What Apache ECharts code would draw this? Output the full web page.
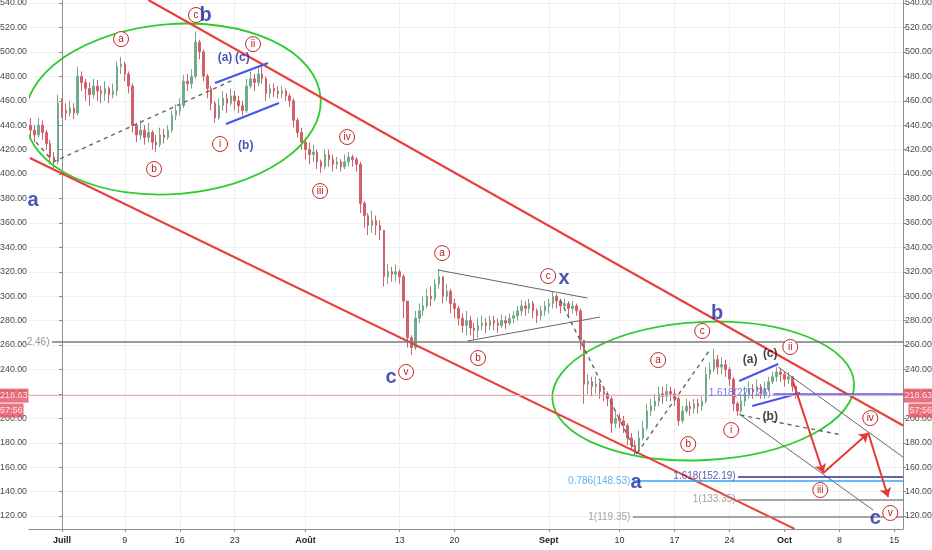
<!DOCTYPE html>
<html><head><meta charset="utf-8">
<script src="https://cdn.jsdelivr.net/npm/echarts@6/dist/echarts.min.js"></script>
<style>html,body{margin:0;padding:0;background:#fff}#c{width:932px;height:550px}</style>
</head><body><div id="c"></div>
<script>
// ---- price data: 12h candles, day 0 = 1 July ----
const START_DAY = -4;
const STEP = 0.5;
const FIRST_OPEN = 440;
const closes = [
436,432,440,434,425,414,410,458,452,450,
454,450,480,475,470,465,472,468,466,470,
465,468,488,490,482,472,440,432,436,430,
434,426,424,432,430,436,448,452,456,476,
474,480,508,500,480,470,458,446,456,462,
458,464,460,456,452,472,478,475,482,478,
466,470,468,466,468,464,460,444,434,426,
420,416,418,410,406,416,412,408,410,406,
410,414,412,408,376,366,358,362,358,354,
316,320,318,320,316,296,266,258,282,288,
292,300,298,310,316,300,304,294,290,282,
276,280,274,272,276,278,276,280,278,276,
280,278,282,284,288,292,290,294,288,284,
288,292,294,300,296,292,294,290,292,288,
264,228,230,226,228,222,220,216,196,200,
198,194,184,178,174,184,192,206,210,214,
220,218,222,220,216,198,206,210,208,212,
210,214,236,240,248,242,244,240,232,212,
206,214,220,224,222,226,220,224,230,234,
238,236,232,234,226,218.63];
const highs = [
446,440,446,444,436,428,418,465,462,458,
460,458,488,484,478,475,478,477,472,476,
472,474,492,496,492,484,474,442,444,440,
442,436,432,438,437,440,452,457,462,481,
482,486,517,510,502,482,472,460,462,468,
466,470,468,464,460,478,484,482,488,490,
480,474,474,472,472,470,466,462,446,438,
430,426,424,420,412,420,420,416,414,412,
416,418,416,414,410,378,368,370,366,362,
354,326,324,326,322,318,296,268,288,294,
300,306,308,314,322,316,310,306,298,292,
286,288,284,278,282,284,282,284,284,282,
285,284,286,288,292,297,296,298,296,290,
292,296,298,304,302,298,298,296,296,294,
290,264,236,234,234,230,226,222,218,206,
204,202,196,188,182,190,198,212,216,220,
226,226,228,226,224,218,210,216,214,216,
216,218,242,246,257,252,250,248,242,234,
214,220,226,230,228,232,228,230,234,238,
242,241,238,238,234,226];
const lows = [
430,426,430,428,420,408,405,408,446,444,
447,445,448,468,460,456,462,460,458,460,
458,462,464,482,476,466,434,426,428,424,
426,420,418,422,425,428,434,444,448,454,
468,470,478,494,476,462,452,442,444,452,
450,456,452,450,448,450,470,468,472,474,
460,462,463,462,462,460,455,438,430,420,
412,408,410,404,401,404,406,402,404,402,
404,406,406,402,368,356,350,352,350,346,
308,310,312,312,310,282,258,252,256,278,
284,290,292,296,306,294,296,286,282,276,
270,268,268,264,266,272,270,272,272,270,
274,273,276,278,280,284,284,286,282,278,
280,284,286,290,290,286,288,284,286,284,
256,212,220,218,220,216,214,210,188,192,
192,188,178,174,170,172,182,190,202,206,
210,212,214,214,210,194,196,204,202,204,
204,206,212,232,238,236,236,234,226,206,
202,204,210,216,216,218,216,216,222,228,
230,230,226,228,222,216];

// ---- axis ticks ----
const tickDays = [0,8,15,22,31,43,50,62,71,78,85,92,99,106];
const tickLabels = ['Juill','9','16','23','Août','13','20','Sept','10','17','24','Oct','8','15'];
const tickIsMonth = [1,0,0,0,1,0,0,1,0,0,0,1,0,0];
const priceTicks = [120,140,160,180,200,220,240,260,280,300,320,340,360,380,400,420,440,460,480,500,520,540];

// ---- annotations, in (day, price) ----
const redChannel = [[11.0,542.5,107.1,194.1],[-4.08,413.1,93.3,109.5]];
const dashedPaths = [[-3.31,426.2,-1.27,411.4],[-1.15,409.8,21.78,477.0],[63.44,296.8,73.25,170.0],[73.25,171.5,82.5,256.0],[86.4,202.7,99.4,186.3]];
const thinPaths = [[47.9,321.4,66.9,298.5],[51.6,263.3,68.5,282.9],[91.21,242.0,107.1,168.3],[86.24,203.5,103.3,124.9]];
const blueChannel = [[19.49,474.5,26.24,490.9],[20.89,440.9,27.64,458.1],[86.24,230.5,91.21,244.4],[87.9,210.1,94.01,220.7]];
const arrowPaths = [[93.12,229.7,96.94,155.2],[96.94,155.2,102.68,188.0],[102.68,188.0,105.2,135.6]];
const ellipses = [[14.14,453.2,18.85,69.6,4.5],[81.66,222.3,19.24,56.5,3]];
const levelValues = [262.46,152.19,148.53,133.35,119.35,220.26,218.63];
const levelStarts = [-1.27,86.1,72.7,86.1,72.7,90.6,-4.2];
const levelTexts = ['2.46)','1.618(152.19)','0.786(148.53)','1(133.35)','1(119.35)','1.618(220.26)',''];
const waveMarks = [[7.52,510.5,'a'],[11.72,404.1,'b'],[17.07,530.2,'c'],[20.13,424.6,'i'],[24.33,506.4,'ii'],
 [32.87,386.1,'iii'],[36.31,430.3,'iv'],[43.82,237.9,'v'],[48.41,335.3,'a'],[52.99,249.4,'b'],[61.91,316.5,'c'],
 [75.92,247.7,'a'],[79.75,178.9,'b'],[81.53,271.5,'c'],[85.22,190.4,'i'],[92.74,258.4,'ii'],[96.56,141.3,'iii'],
 [102.93,200.2,'iv'],[105.48,122.5,'v']];
const degreeMarks = [[18.3,530.2,'b'],[-3.69,378.7,'a'],[41.91,233.8,'c'],[63.95,314.9,'x'],[83.44,286.2,'b'],[73.12,147.8,'a'],[103.57,118.4,'c']];
const subMarksBlue = [[20.76,495.3,'(a)'],[22.97,495.3,'(c)'],[23.4,423.2,'(b)']];
const subMarksBlack = [[87.64,247.7,'(a)'],[90.19,253.2,'(c)'],[90.19,201.0,'(b)']];
const lastPrice = 218.63;
const timerText = '57:56';

// ---- styles / layout ----
const X_MIN = -4.2, X_MAX = 107.1, Y_MIN = 109.4, Y_MAX = 542.5;
const FONT = 'Liberation Sans, Arial, sans-serif';
const levelColors = ['#7a7a7a','#2b2f9c','#3aa0ee','#8a8a8a','#8a8a8a','#4f5cf0','#f4a6b0'];

const candles = closes.map((c, i) => [START_DAY + i * STEP, i === 0 ? FIRST_OPEN : closes[i - 1], c, lows[i], highs[i]]);
const segData = arr => arr.map(s => ({coords: [[s[0], s[1]], [s[2], s[3]]]}));
const markData = arr => arr.map(m => ({value: [m[0], m[1]], name: m[2]}));

const chart = echarts.init(document.getElementById('c'));

const yAxisBase = {
  type: 'value', min: Y_MIN, max: Y_MAX,
  axisLine: {show: true, lineStyle: {color: '#8c8c8c'}},
  axisTick: {show: true, length: 3, customValues: priceTicks, lineStyle: {color: '#8c8c8c'}},
  axisLabel: {customValues: priceTicks, formatter: v => v.toFixed(2), fontSize: 8.8, color: '#4a4a4a', margin: 2, fontFamily: FONT},
};

chart.setOption({
  animation: false,
  backgroundColor: '#fff',
  grid: {left: 29, right: 29, top: 0, bottom: 21, containLabel: false, outerBoundsMode: 'none'},
  xAxis: {
    type: 'value', min: X_MIN, max: X_MAX,
    axisLine: {show: true, onZero: false, lineStyle: {color: '#8c8c8c'}},
    axisTick: {show: true, length: 3, customValues: tickDays, lineStyle: {color: '#8c8c8c'}},
    axisLabel: {
      customValues: tickDays, fontSize: 9, color: '#333', margin: 7, fontFamily: FONT,
      formatter: v => { const i = tickDays.indexOf(v); if (i < 0) return ''; return tickIsMonth[i] ? '{m|' + tickLabels[i] + '}' : tickLabels[i]; },
      rich: {m: {fontWeight: 'bold', fontSize: 9, color: '#222', fontFamily: FONT}}
    },
    splitLine: {show: true, lineStyle: {color: '#eef0f3', width: 1}}
  },
  yAxis: [
    Object.assign({}, yAxisBase, {position: 'left', splitLine: {show: true, lineStyle: {color: '#eef0f3', width: 1}}}),
    Object.assign({}, yAxisBase, {position: 'right', splitLine: {show: false}})
  ],
  series: [
    {
      type: 'candlestick', data: candles, encode: {x: 0, y: [1, 2, 3, 4]}, barWidth: 2, z: 2, silent: true,
      itemStyle: {color: '#72ab8a', color0: '#d2606a', borderColor: '#72ab8a', borderColor0: '#d2606a', borderWidth: 1}
    },
    {
      type: 'custom', coordinateSystem: 'cartesian2d', clip: true, silent: true, z: 4,
      data: ellipses, encode: {x: 0, y: 1},
      renderItem: (params, api) => {
        const c = api.coord([api.value(0), api.value(1)]);
        const s = api.size([api.value(2), api.value(3)]);
        const rx = s[0], ry = s[1];
        const d = `M ${c[0]-rx} ${c[1]} A ${rx} ${ry} 0 1 0 ${c[0]+rx} ${c[1]} A ${rx} ${ry} 0 1 0 ${c[0]-rx} ${c[1]} Z`;
        return {type: 'path', shape: {pathData: d}, rotation: api.value(4) * Math.PI / 180, originX: c[0], originY: c[1],
          style: {fill: 'none', stroke: '#2fcc2f', lineWidth: 1.8}};
      }
    },
    {type: 'lines', coordinateSystem: 'cartesian2d', silent: true, z: 5, data: segData(redChannel), lineStyle: {color: '#e8403c', width: 2.2, opacity: 1}},
    {type: 'lines', coordinateSystem: 'cartesian2d', silent: true, z: 5, data: segData(dashedPaths), lineStyle: {color: '#666', width: 1.4, type: [4, 4], opacity: 1}},
    {type: 'lines', coordinateSystem: 'cartesian2d', silent: true, z: 5, data: segData(thinPaths), lineStyle: {color: '#666', width: 1, opacity: 1}},
    {type: 'lines', coordinateSystem: 'cartesian2d', silent: true, z: 5, data: segData(blueChannel), lineStyle: {color: '#4a55e6', width: 2.2, opacity: 1}},
    {
      type: 'lines', coordinateSystem: 'cartesian2d', silent: true, z: 5,
      data: levelValues.map((v, i) => ({coords: [[levelStarts[i], v], [X_MAX, v]], lineStyle: {color: levelColors[i], width: i === 6 ? 1 : 1.5}})),
      lineStyle: {opacity: 1}
    },
    {type: 'lines', coordinateSystem: 'cartesian2d', silent: true, z: 6, data: segData(arrowPaths), symbol: ['none', 'arrow'], symbolSize: 9, lineStyle: {color: '#e53935', width: 2, opacity: 1}},
    {
      type: 'scatter', silent: true, clip: false, z: 8, symbolSize: 1, itemStyle: {color: 'rgba(0,0,0,0)'},
      data: levelValues.map((v, i) => ({value: [levelStarts[i], v], name: levelTexts[i], label: {color: levelColors[i]}})).filter(d => d.name),
      label: {show: true, position: 'left', distance: 2, formatter: '{b}', fontSize: 10, fontFamily: FONT}
    },
    {
      type: 'scatter', silent: true, clip: false, z: 9, data: markData(waveMarks), symbol: 'circle', symbolSize: 15,
      itemStyle: {color: '#fff', borderColor: '#c62828', borderWidth: 1, opacity: 1},
      label: {show: true, position: 'inside', formatter: '{b}', color: '#b71c1c', fontSize: 10, fontFamily: FONT}
    },
    {
      type: 'scatter', silent: true, clip: false, z: 9, data: markData(degreeMarks), symbolSize: 1, itemStyle: {color: 'rgba(0,0,0,0)'},
      label: {show: true, position: 'inside', formatter: '{b}', color: '#1c2aa6', fontSize: 20, fontWeight: 'bold', fontFamily: FONT}
    },
    {
      type: 'scatter', silent: true, clip: false, z: 9, data: markData(subMarksBlue), symbolSize: 1, itemStyle: {color: 'rgba(0,0,0,0)'},
      label: {show: true, position: 'inside', formatter: '{b}', color: '#1c2aa6', fontSize: 12, fontWeight: 'bold', fontFamily: FONT}
    },
    {
      type: 'scatter', silent: true, clip: false, z: 9, data: markData(subMarksBlack), symbolSize: 1, itemStyle: {color: 'rgba(0,0,0,0)'},
      label: {show: true, position: 'inside', formatter: '{b}', color: '#111', fontSize: 12, fontWeight: 'bold', fontFamily: FONT}
    },
    {
      type: 'scatter', silent: true, clip: false, z: 10, symbolSize: 1, itemStyle: {color: 'rgba(0,0,0,0)'},
      data: [
        {value: [X_MAX, lastPrice], name: lastPrice.toFixed(2), label: {position: 'right', offset: [0, 0]}},
        {value: [X_MAX, lastPrice], name: timerText, label: {position: 'right', offset: [5, 15]}},
        {value: [X_MIN, lastPrice], name: lastPrice.toFixed(2), label: {position: 'left', offset: [0, 0]}},
        {value: [X_MIN, lastPrice], name: timerText, label: {position: 'left', offset: [-5, 15]}}
      ],
      label: {show: true, distance: 0, formatter: '{b}', color: '#fff', backgroundColor: '#e5505f', fontSize: 9, fontFamily: FONT,
        padding: [2, 1, 2, 1], lineHeight: 10}
    }
  ]
});
</script>
</body></html>
